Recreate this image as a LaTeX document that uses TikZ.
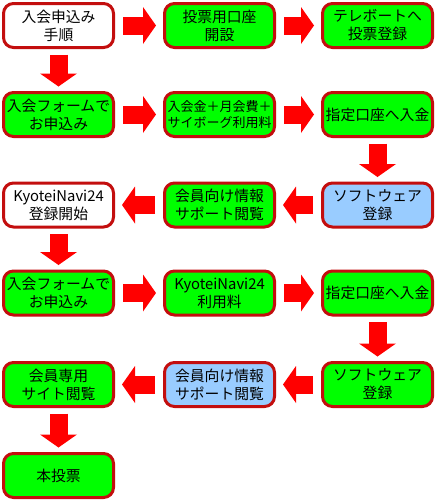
\documentclass[tikz,border=0pt]{standalone}
\usepackage{fontspec}
\newfontfamily\jpfont{Noto Sans CJK JP}
\usetikzlibrary{arrows.meta}
\definecolor{boxgreen}{RGB}{0,255,0}
\definecolor{boxblue}{RGB}{153,204,255}
\definecolor{boxrim}{RGB}{195,14,14}
\definecolor{flowred}{RGB}{255,0,0}
\tikzset{
  stepnode/.style={rectangle,rounded corners=10pt,draw=boxrim,line width=3pt,
    fill=boxgreen,minimum width=110pt,minimum height=44pt,inner sep=0pt,
    align=center,font=\jpfont\fontsize{14.8}{18}\selectfont},
  startnode/.style={stepnode,fill=white},
  infonode/.style={stepnode,fill=boxblue},
  flow/.style={draw=flowred,line width=18pt,
    -{Triangle[length=13pt,width=37pt,line width=0pt]}},
  sideflow/.style={flow,shorten <=8pt,shorten >=7pt},
  downflow/.style={flow,shorten <=5.5pt,shorten >=4.5pt},
}
\begin{document}
\begin{tikzpicture}[x=1pt,y=-1pt]
\useasboundingbox (0,0) rectangle (436,501);
% row 1
\node[startnode] (apply) at (58.5,25.5) {入会申込み\\手順};
\node[stepnode] (account) at (219.5,25.5) {投票用口座\\開設};
\node[stepnode] (telebet) at (377.5,25.5) {テレボートへ\\投票登録};
% row 2
\node[stepnode] (form1) at (58.5,114.5) {入会フォームで\\お申込み};
\node[stepnode,font=\jpfont\fontsize{13}{16}\selectfont] (fee1) at (219.5,114.5) {入会金＋月会費＋\\サイボーグ利用料};
\node[stepnode] (deposit1) at (377.5,114.5) {指定口座へ入金};
% row 3
\node[startnode] (navistart) at (58.5,205) {KyoteiNavi24\\登録開始};
\node[stepnode] (info1) at (219.5,205) {会員向け情報\\サポート閲覧};
\node[infonode] (soft1) at (377.5,205) {ソフトウェア\\登録};
% row 4
\node[stepnode] (form2) at (58.5,293) {入会フォームで\\お申込み};
\node[stepnode] (fee2) at (219.5,293) {KyoteiNavi24\\利用料};
\node[stepnode] (deposit2) at (377.5,293) {指定口座へ入金};
% row 5
\node[stepnode] (members) at (58.5,384.5) {会員専用\\サイト閲覧};
\node[infonode] (info2) at (219.5,384.5) {会員向け情報\\サポート閲覧};
\node[stepnode] (soft2) at (377.5,384.5) {ソフトウェア\\登録};
% row 6
\node[stepnode] (vote) at (58.5,475.5) {本投票};
% arrows
\draw[sideflow] (apply) -- (account);
\draw[sideflow] (account) -- (telebet);
\draw[downflow] (apply) -- (form1);
\draw[sideflow] (form1) -- (fee1);
\draw[sideflow] (fee1) -- (deposit1);
\draw[downflow] (deposit1) -- (soft1);
\draw[sideflow] (soft1) -- (info1);
\draw[sideflow] (info1) -- (navistart);
\draw[downflow] (navistart) -- (form2);
\draw[sideflow] (form2) -- (fee2);
\draw[sideflow] (fee2) -- (deposit2);
\draw[downflow] (deposit2) -- (soft2);
\draw[sideflow] (soft2) -- (info2);
\draw[sideflow] (info2) -- (members);
\draw[downflow] (members) -- (vote);
\end{tikzpicture}
\end{document}
